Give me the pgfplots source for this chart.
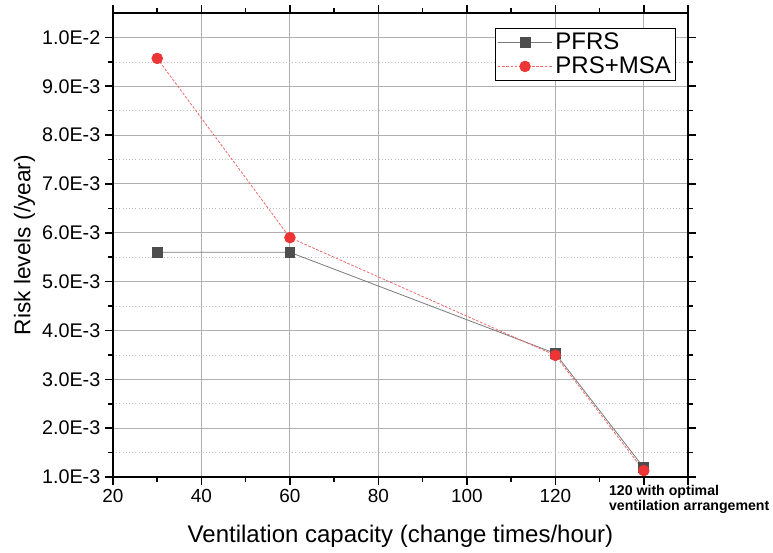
\documentclass[border=0pt]{standalone}
\usepackage{fontspec}
\setmainfont{Liberation Sans}
\usepackage{pgfplots}
\pgfplotsset{compat=1.18}
\definecolor{pfrsgray}{HTML}{4D4D4D}
\definecolor{pfrsline}{HTML}{7A7A7A}
\definecolor{msared}{HTML}{EE3535}
\definecolor{gridgray}{HTML}{B0B0B0}
\begin{document}
\begin{tikzpicture}
\begin{axis}[
    scale only axis,
    width=431.25pt,
    height=348pt,
    xmin=20, xmax=150,
    ymin=0.001, ymax=0.0105,
    xtick={20,40,60,80,100,120,140},
    xticklabels={20,40,60,80,100,120,{}},
    minor xtick={30,50,70,90,110,130},
    extra x ticks={150},
    extra x tick labels={},
    extra x tick style={grid=none},
    ytick={0.001,0.002,0.003,0.004,0.005,0.006,0.007,0.008,0.009,0.01},
    yticklabels={1.0E-3,2.0E-3,3.0E-3,4.0E-3,5.0E-3,6.0E-3,7.0E-3,8.0E-3,9.0E-3,1.0E-2},
    minor ytick={0.0015,0.0025,0.0035,0.0045,0.0055,0.0065,0.0075,0.0085,0.0095},
    scaled y ticks=false,
    tick align=outside,
    tick pos=both,
    major tick length=6pt,
    minor tick length=3.5pt,
    every tick/.style={black, line width=1.2pt},
    axis line style={black, line width=1.4pt},
    xmajorgrids, ymajorgrids, yminorgrids,
    major grid style={draw=gridgray, line width=0.7pt},
    minor grid style={draw=gridgray!80, dotted, line width=0.5pt},
    xticklabel style={font=\fontsize{14.2}{17}\selectfont},
    yticklabel style={font=\fontsize{14.8}{17.8}\selectfont},
    xlabel={Ventilation capacity (change times/hour)},
    ylabel={Risk levels (/year)},
    xlabel style={font=\fontsize{18}{21.6}\selectfont, at={(axis description cs:0.5,-0.142)}, anchor=base},
    ylabel style={font=\fontsize{17}{20.4}\selectfont, at={(axis description cs:-0.154,0.5)}, anchor=center},
    legend style={at={(0.979,0.968)}, anchor=north east, draw=black, line width=0.7pt,
        font=\fontsize{18}{21.6}\selectfont, inner sep=1.5pt, row sep=0pt},
    legend cell align=left,
    legend image code/.code={
        \draw[mark repeat=2, mark phase=2, #1] plot coordinates {(0cm,0cm) (0.72cm,0cm) (1.44cm,0cm)};
    },
    clip=false,
]
\addplot[color=pfrsline, line width=0.6pt, mark=square*, mark size=3.7pt,
    mark options={solid, fill=pfrsgray, draw=pfrsgray}]
    coordinates {(30,0.0056) (60,0.0056) (120,0.00353) (140,0.00119)};
\addlegendentry{PFRS}
\addplot[color=msared!75, dash pattern=on 2pt off 1.2pt, line width=0.6pt, mark=*, mark size=4pt,
    mark options={solid, fill=msared, draw=msared}]
    coordinates {(30,0.00957) (60,0.0059) (120,0.00349) (140,0.00113)};
\addlegendentry{PRS+MSA}
\node[anchor=north west, align=left, inner sep=0pt,
    font=\bfseries\fontsize{10.6}{11.3}\selectfont]
    at (axis cs:132.1,0.001) [yshift=-6pt] {120 with optimal\\ventilation arrangement};
\end{axis}
\pgfresetboundingbox
\path[use as bounding box] (current axis.south west) ++(-84.75pt,-57pt)
    rectangle ([xshift=63.75pt,yshift=9.75pt]current axis.north east);
\end{tikzpicture}
\end{document}
